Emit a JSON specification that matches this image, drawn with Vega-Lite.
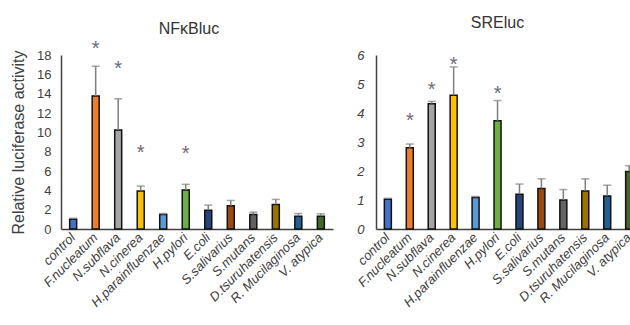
{
  "$schema": "https://vega.github.io/schema/vega-lite/v6.json",
  "padding": {"left": 10, "top": 15, "right": 0, "bottom": 0},
  "config": {
    "view": {"stroke": null},
    "font": "Liberation Sans",
    "axis": {"grid": false, "ticks": false, "domainColor": "#404040", "domainWidth": 1.5, "labelColor": "#404040", "titleColor": "#404040", "labelOverlap": false},
    "title": {"fontSize": 16, "fontWeight": "normal", "color": "#333333"}
  },
  "spacing": 22,
  "datasets": {
    "d": [
      {"assay": "NFκBluc", "strain": "control", "value": 1.0, "upper": 1.1, "star": null},
      {"assay": "NFκBluc", "strain": "F.nucleatum", "value": 13.75, "upper": 16.84, "star": 18.9},
      {"assay": "NFκBluc", "strain": "N.subflava", "value": 10.24, "upper": 13.47, "star": 16.9},
      {"assay": "NFκBluc", "strain": "N.cinerea", "value": 3.92, "upper": 4.44, "star": 8.2},
      {"assay": "NFκBluc", "strain": "H.parainfluenzae", "value": 1.49, "upper": 1.6, "star": null},
      {"assay": "NFκBluc", "strain": "H.pylori", "value": 4.03, "upper": 4.62, "star": 8.05},
      {"assay": "NFκBluc", "strain": "E.coli", "value": 1.94, "upper": 2.47, "star": null},
      {"assay": "NFκBluc", "strain": "S.salivarius", "value": 2.4, "upper": 2.95, "star": null},
      {"assay": "NFκBluc", "strain": "S.mutans", "value": 1.49, "upper": 1.74, "star": null},
      {"assay": "NFκBluc", "strain": "D.tsuruhatensis", "value": 2.53, "upper": 3.06, "star": null},
      {"assay": "NFκBluc", "strain": "R. Mucilaginosa", "value": 1.32, "upper": 1.6, "star": null},
      {"assay": "NFκBluc", "strain": "V. atypica", "value": 1.32, "upper": 1.57, "star": null},
      {"assay": "SREluc", "strain": "control", "value": 1.03, "upper": 1.06, "star": null},
      {"assay": "SREluc", "strain": "F.nucleatum", "value": 2.8, "upper": 2.93, "star": 3.82},
      {"assay": "SREluc", "strain": "N.subflava", "value": 4.32, "upper": 4.4, "star": 4.89},
      {"assay": "SREluc", "strain": "N.cinerea", "value": 4.61, "upper": 5.59, "star": 5.77},
      {"assay": "SREluc", "strain": "H.parainfluenzae", "value": 1.09, "upper": 1.12, "star": null},
      {"assay": "SREluc", "strain": "H.pylori", "value": 3.73, "upper": 4.43, "star": 4.77},
      {"assay": "SREluc", "strain": "E.coli", "value": 1.2, "upper": 1.55, "star": null},
      {"assay": "SREluc", "strain": "S.salivarius", "value": 1.4, "upper": 1.73, "star": null},
      {"assay": "SREluc", "strain": "S.mutans", "value": 1.0, "upper": 1.36, "star": null},
      {"assay": "SREluc", "strain": "D.tsuruhatensis", "value": 1.31, "upper": 1.73, "star": null},
      {"assay": "SREluc", "strain": "R. Mucilaginosa", "value": 1.14, "upper": 1.51, "star": null},
      {"assay": "SREluc", "strain": "V. atypica", "value": 1.98, "upper": 2.18, "star": null}
    ]
  },
  "hconcat": [
    {
      "width": 272,
      "height": 174,
      "title": {"text": "NFκBluc", "dx": -8, "offset": 2},
      "data": {"name": "d"},
      "transform": [{"filter": "datum.assay === 'NFκBluc'"}],
      "encoding": {
        "x": {"field": "strain", "type": "nominal", "sort": null,
          "scale": {"paddingInner": 0.62, "paddingOuter": 0.35},
          "axis": {"title": null, "labelAngle": -45, "labelFontStyle": "italic", "labelFontSize": 13, "labelAlign": "right", "labelBaseline": "middle", "labelPadding": 6, "labelOverlap": false}}
      },
      "layer": [
        {
          "mark": {"type": "bar", "stroke": "#111111", "strokeWidth": 1.5, "width": 7},
          "encoding": {
            "y": {"field": "value", "type": "quantitative", "scale": {"domain": [0, 18]},
              "axis": {"title": "Relative luciferase activity", "titleFontSize": 16, "titleFontWeight": "normal", "titlePadding": 10, "values": [0,2,4,6,8,10,12,14,16,18], "tickCount": 20, "format": "d", "labelFontSize": 13, "labelPadding": 10, "labelOverlap": false}},
            "color": {"field": "strain", "type": "nominal", "legend": null,
              "scale": {"domain": ["control","F.nucleatum","N.subflava","N.cinerea","H.parainfluenzae","H.pylori","E.coli","S.salivarius","S.mutans","D.tsuruhatensis","R. Mucilaginosa","V. atypica"],
                "range": ["#4472C4","#ED7D31","#A5A5A5","#FFC000","#5B9BD5","#70AD47","#264478","#9E480E","#636363","#997300","#255E91","#43682B"]}}
          }
        },
        {
          "mark": {"type": "rule", "color": "#7f7f7f", "strokeWidth": 1.5},
          "encoding": {"y": {"field": "value", "type": "quantitative"}, "y2": {"field": "upper"}}
        },
        {
          "mark": {"type": "tick", "color": "#7f7f7f", "thickness": 1.5, "size": 8},
          "encoding": {"y": {"field": "upper", "type": "quantitative"}}
        },
        {
          "mark": {"type": "text", "text": "*", "fontSize": 20, "color": "#6a6a78", "baseline": "middle", "dy": 3},
          "encoding": {"y": {"field": "star", "type": "quantitative"}}
        }
      ]
    },
    {
      "width": 265,
      "height": 174,
      "title": {"text": "SREluc", "dx": -11, "offset": 18},
      "data": {"name": "d"},
      "transform": [{"filter": "datum.assay === 'SREluc'"}],
      "encoding": {
        "x": {"field": "strain", "type": "nominal", "sort": null,
          "scale": {"paddingInner": 0.62, "paddingOuter": 0.35},
          "axis": {"title": null, "labelAngle": -45, "labelFontStyle": "italic", "labelFontSize": 13, "labelAlign": "right", "labelBaseline": "middle", "labelPadding": 6, "labelOverlap": false}}
      },
      "layer": [
        {
          "mark": {"type": "bar", "stroke": "#111111", "strokeWidth": 1.5, "width": 7},
          "encoding": {
            "y": {"field": "value", "type": "quantitative", "scale": {"domain": [0, 6]},
              "axis": {"title": null, "values": [0,1,2,3,4,5,6], "tickCount": 20, "format": "d", "labelFontSize": 13, "labelFontStyle": "italic", "labelPadding": 12, "labelOverlap": false}},
            "color": {"field": "strain", "type": "nominal", "legend": null,
              "scale": {"domain": ["control","F.nucleatum","N.subflava","N.cinerea","H.parainfluenzae","H.pylori","E.coli","S.salivarius","S.mutans","D.tsuruhatensis","R. Mucilaginosa","V. atypica"],
                "range": ["#4472C4","#ED7D31","#A5A5A5","#FFC000","#5B9BD5","#70AD47","#264478","#9E480E","#636363","#997300","#255E91","#43682B"]}}
          }
        },
        {
          "mark": {"type": "rule", "color": "#7f7f7f", "strokeWidth": 1.5},
          "encoding": {"y": {"field": "value", "type": "quantitative"}, "y2": {"field": "upper"}}
        },
        {
          "mark": {"type": "tick", "color": "#7f7f7f", "thickness": 1.5, "size": 8},
          "encoding": {"y": {"field": "upper", "type": "quantitative"}}
        },
        {
          "mark": {"type": "text", "text": "*", "fontSize": 20, "color": "#6a6a78", "baseline": "middle", "dy": 3},
          "encoding": {"y": {"field": "star", "type": "quantitative"}}
        }
      ]
    }
  ]
}
